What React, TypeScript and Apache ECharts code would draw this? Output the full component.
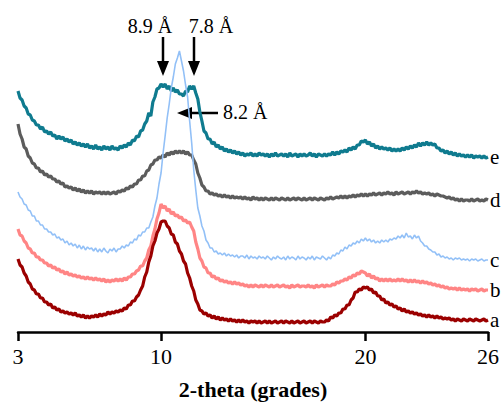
import React, { useEffect, useRef } from "react";
import * as echarts from "echarts";

// 2-theta scan: from 3.0 deg, one reading every 0.1 deg
const scanStart = 3.0;
const scanStep = 0.1;

// intensities (offset for display)
const seriesE = [
  241,234,232,226,224,218,217,212,211,207,
  207,203,205,200,201,198,200,196,197,193,
  196,193,195,191,193,190,192,188,190,187,
  189,186,188,185,188,184,186,183,187,183,
  185,182,186,183,185,182,186,183,184,182,
  186,184,187,185,189,187,192,191,196,195,
  201,202,208,211,219,216,230,235,243,244,
  248,245,248,243,246,241,244,240,242,238,
  238,236,241,240,246,243,246,239,233,220,
  211,201,199,193,193,188,190,185,187,183,
  185,181,183,180,182,179,181,178,180,177,
  179,176,178,177,179,176,178,176,179,177,
  178,176,178,175,178,176,179,176,177,178,
  176,178,175,179,176,177,178,175,178,176,
  178,176,177,179,176,178,175,178,177,176,
  178,176,178,177,180,177,180,178,181,180,
  182,180,184,182,185,183,187,187,191,190,
  192,188,190,186,188,184,186,183,185,183,
  184,182,184,181,183,181,183,181,184,182,
  185,183,186,184,187,185,189,186,189,187,
  190,187,189,187,188,184,184,181,182,179,
  181,178,180,177,179,176,178,176,177,175,
  177,175,177,174,176,175,176,174,176,174,
  175
];

const seriesD = [
  208,198,193,185,183,176,174,169,168,164,
  164,160,161,157,158,155,156,153,153,150,
  151,148,149,145,146,144,145,142,144,141,
  143,140,142,139,141,139,141,138,140,139,
  140,138,140,138,140,138,139,140,138,141,
  140,142,141,144,143,146,145,148,148,152,
  152,156,156,161,162,167,168,172,172,175,
  174,177,175,179,177,180,178,181,179,181,
  179,181,178,180,177,177,172,168,159,154,
  147,145,141,141,138,139,137,138,136,137,
  135,137,135,136,134,136,134,135,134,135,
  133,135,133,134,132,135,133,134,132,134,
  132,134,133,132,134,132,134,133,132,134,
  133,132,134,132,133,134,132,134,133,132,
  134,132,133,134,132,134,133,132,134,133,
  132,134,133,135,133,134,135,134,136,134,
  136,134,136,135,137,135,137,136,138,136,
  138,136,138,137,139,137,138,139,137,139,
  138,140,138,139,137,140,138,139,140,138,
  139,140,138,140,139,141,139,140,138,139,
  138,139,137,138,136,138,137,136,136,135,
  134,135,133,134,132,133,131,133,131,132,
  132,131,133,131,132,133,131,132,131,133,
  132
];

const seriesC = [
  140,135,133,128,127,122,121,116,116,111,
  111,107,107,103,103,100,100,97,98,94,
  95,92,93,89,91,87,89,86,88,84,
  87,83,86,82,85,83,84,81,84,80,
  83,80,84,81,79,83,81,84,80,83,
  83,86,84,87,86,90,89,93,92,97,
  96,100,100,104,104,110,115,126,134,148,
  159,179,196,214,228,244,255,268,274,281,
  271,261,247,235,211,189,162,142,124,116,
  106,101,92,89,84,84,80,81,78,79,
  77,79,76,78,76,77,75,77,74,76,
  76,74,77,73,76,74,75,73,76,74,
  75,73,76,74,72,75,73,76,74,73,
  75,72,76,73,75,74,72,76,73,75,
  74,72,75,73,76,72,75,74,73,76,
  74,72,75,73,77,76,79,78,82,81,
  85,83,87,86,89,88,91,89,93,91,
  94,91,93,90,92,89,91,89,92,90,
  92,90,93,92,94,93,96,94,97,94,
  99,95,96,93,97,94,96,91,89,86,
  86,83,82,80,80,77,78,75,76,74,
  75,73,74,72,74,73,74,72,73,72,
  73,71,73,72,73,71,72,73,71,72,
  72
];

const seriesB = [
  103,97,96,91,89,84,83,79,79,75,
  75,72,72,69,69,66,67,64,65,62,
  63,60,61,58,60,57,58,56,57,55,
  56,54,55,53,55,53,54,52,54,52,
  53,51,53,50,52,50,52,51,53,51,
  53,51,54,52,55,55,58,58,61,62,
  66,66,71,74,82,86,96,103,113,119,
  128,124,126,121,123,118,120,116,117,114,
  115,111,112,109,110,105,101,90,83,74,
  71,65,64,59,59,55,56,53,54,51,
  52,50,51,49,50,48,50,48,49,47,
  48,46,47,45,47,45,47,46,45,47,
  45,47,46,45,47,45,46,47,45,46,
  47,45,46,44,47,45,46,47,45,46,
  46,45,47,45,46,44,47,45,46,47,
  45,47,46,46,48,47,50,49,51,51,
  53,52,55,54,57,56,59,58,61,60,
  59,56,58,54,56,53,54,51,53,51,
  53,51,53,51,52,51,53,51,53,51,
  52,50,52,50,52,50,51,49,51,49,
  50,48,49,47,48,46,47,45,46,44,
  45,43,44,43,44,42,44,42,43,42,
  43,41,43,42,43,41,42,43,41,42,
  42
];

const seriesA = [
  73,67,65,59,56,50,48,43,42,38,
  38,34,34,30,30,27,28,24,25,22,
  23,20,21,19,20,18,19,17,19,16,
  17,15,17,14,16,14,16,15,17,15,
  18,16,18,17,20,18,20,19,21,20,
  22,21,24,23,27,27,31,31,35,37,
  42,46,55,60,70,76,86,91,99,103,
  110,111,111,106,104,98,97,90,88,81,
  78,71,68,59,54,46,41,32,28,22,
  21,18,19,16,17,14,16,13,15,12,
  14,12,13,11,13,11,12,10,12,10,
  12,10,11,9,11,10,11,9,11,9,
  10,11,9,11,9,10,11,9,10,11,
  9,11,10,9,11,9,10,11,9,10,
  11,9,10,11,9,11,10,9,11,10,
  10,12,11,15,14,17,16,19,19,23,
  23,27,27,32,34,40,40,43,42,45,
  44,45,42,43,39,40,36,36,32,33,
  29,30,27,28,25,26,23,24,21,23,
  20,21,19,20,18,19,17,18,16,17,
  15,17,15,16,14,16,14,15,13,14,
  13,14,12,13,11,13,12,11,13,12,
  11,13,12,11,13,12,11,12,13,11,
  12
];

const sampleNames = ["e", "d", "b", "a", "c"];
const xTicks = [3, 10, 20, 26];
const xMin = 3;
const xMax = 26;
const xTitle = "2-theta (grades)";
const peakLabels = ["8.9 Å", "7.8 Å", "8.2 Å"];

const SERIF = "Liberation Serif";

function toPairs(vals: number[]) {
  return vals.map((v, i) => [Number((scanStart + i * scanStep).toFixed(1)), v]);
}

export default function App() {
  const ref = useRef<HTMLDivElement>(null);
  useEffect(() => {
    if (!ref.current) return;
    const chart = echarts.init(ref.current, null, { renderer: "svg" });
    const dataSets = [seriesE, seriesD, seriesB, seriesA, seriesC];
    const colors = ["#0f7b8f", "#5c5c5c", "#ff8585", "#9b0000", "#92c0f7"];
    const widths = [3.2, 3.2, 3.2, 3.2, 1.6];
    const series = dataSets.map((d, i) => ({
      type: "line",
      name: sampleNames[i],
      data: toPairs(d),
      showSymbol: false,
      symbol: "none",
      lineStyle: { color: colors[i], width: widths[i] },
      itemStyle: { color: colors[i] },
      endLabel: {
        show: true,
        formatter: sampleNames[i],
        distance: 2,
        color: "#000",
        fontSize: 21,
        fontFamily: SERIF,
      },
      z: i === 4 ? 5 : 2,
    }));
    const arrowStyle = { stroke: "#000", lineWidth: 2.5 };
    const headStyle = { fill: "#000" };
    const txt = (s: string, x: number, y: number, align: string) => ({
      type: "text",
      x,
      y,
      style: { text: s, fontFamily: SERIF, fontSize: 20, fill: "#000", align, verticalAlign: "middle" },
    });
    chart.setOption({
      animation: false,
      backgroundColor: "#fff",
      grid: { left: 18, right: 13, top: 0, bottom: 70, containLabel: false, outerBoundsMode: "none" },
      xAxis: {
        type: "value",
        min: xMin,
        max: xMax,
        name: xTitle,
        nameLocation: "middle",
        nameGap: 46,
        nameTextStyle: { fontFamily: SERIF, fontSize: 22, fontWeight: "bold", color: "#000" },
        axisLine: { show: true, lineStyle: { color: "#000", width: 2.5 } },
        axisTick: { show: true, customValues: xTicks, length: 9, lineStyle: { color: "#000", width: 2.5 } },
        axisLabel: { customValues: xTicks, fontFamily: SERIF, fontSize: 22, color: "#000", margin: 13 },
        splitLine: { show: false },
      },
      yAxis: { type: "value", min: 0, max: 332, show: false },
      series,
      graphic: [
        txt(peakLabels[0], 150, 26, "center"),
        txt(peakLabels[1], 211, 26, "center"),
        txt(peakLabels[2], 223, 112, "left"),
        { type: "line", shape: { x1: 163, y1: 37, x2: 163, y2: 63 }, style: arrowStyle },
        { type: "polygon", shape: { points: [[157, 61], [169, 61], [163, 76]] }, style: headStyle },
        { type: "line", shape: { x1: 194, y1: 37, x2: 194, y2: 63 }, style: arrowStyle },
        { type: "polygon", shape: { points: [[188, 61], [200, 61], [194, 76]] }, style: headStyle },
        { type: "line", shape: { x1: 218, y1: 113, x2: 190, y2: 113 }, style: arrowStyle },
        { type: "polygon", shape: { points: [[192, 107], [192, 119], [177, 113]] }, style: headStyle },
      ],
    });
    return () => chart.dispose();
  }, []);
  return <div ref={ref} style={{ position: "absolute", left: 0, top: 0, width: 501, height: 402 }} />;
}
